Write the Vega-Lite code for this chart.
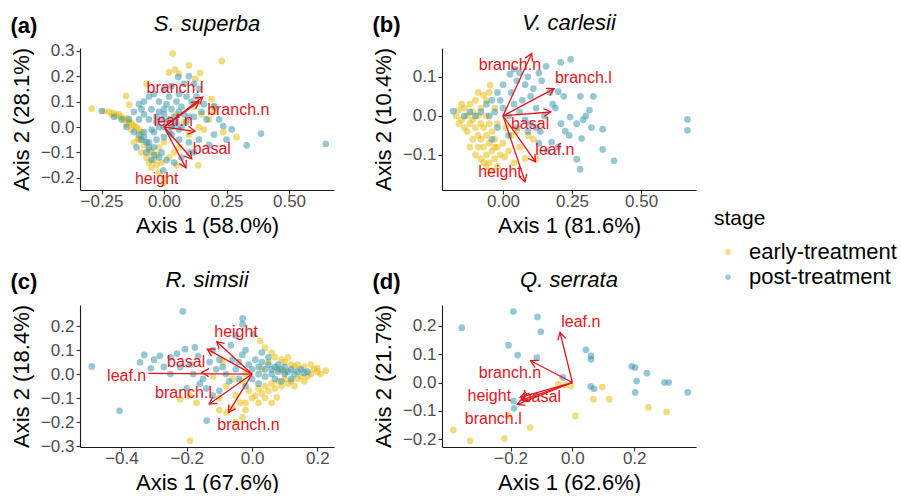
{
"$schema":"https://vega.github.io/schema/vega-lite/v6.json",
"padding":{"left":10,"top":12,"right":0,"bottom":0},
"background":"white",
"config":{"font":"Liberation Sans","view":{"stroke":null},
"axis":{"grid":false,"domainColor":"#1A1A1A","domainWidth":1.1,"tickColor":"#333333","tickWidth":1.1,"tickSize":4,"labelColor":"#4D4D4D","labelFontSize":17,"labelPadding":2,"labelFlush":false,"labelOverlap":false,"titleFontSize":22,"titleFontWeight":"normal","titleColor":"#000000","tickCount":10},
"axisX":{"titlePadding":6,"labelPadding":-1},"axisY":{"titlePadding":7},
"title":{"fontSize":22,"color":"#000000"}},
"columns":2,
"spacing":{"row":33,"column":38},
"datasets":{
"arr":[
{"p":"a","v":"branch.l","ox":0,"oy":0,"ax":0.155,"ay":0.118,"ex":0.155,"ey":0.118,"lx":0.044,"ly":0.154},
{"p":"a","v":"branch.n","ox":0,"oy":0,"ax":0.14,"ay":0.1,"ex":0.14,"ey":0.1,"lx":0.297,"ly":0.066},
{"p":"a","v":"leaf.n","ox":0,"oy":0,"ax":0.124,"ay":-0.017,"ex":0.124,"ey":-0.017,"lx":0.037,"ly":0.024},
{"p":"a","v":"basal","ox":0,"oy":0,"ax":0.111,"ay":-0.125,"ex":0.111,"ey":-0.125,"lx":0.191,"ly":-0.088},
{"p":"a","v":"height","ox":0,"oy":0,"ax":0.088,"ay":-0.161,"ex":0.088,"ey":-0.161,"lx":-0.029,"ly":-0.203},
{"p":"b","v":"branch.n","ox":0,"oy":0,"ax":0.104,"ay":0.16,"ex":0.104,"ey":0.16,"lx":0.025,"ly":0.13},
{"p":"b","v":"branch.l","ox":0,"oy":0,"ax":0.185,"ay":0.07,"ex":0.185,"ey":0.07,"lx":0.291,"ly":0.096},
{"p":"b","v":"basal","ox":0,"oy":0,"ax":0.173,"ay":0.01,"ex":0.173,"ey":0.01,"lx":0.098,"ly":-0.02},
{"p":"b","v":"leaf.n","ox":0,"oy":0,"ax":0.118,"ay":-0.118,"ex":0.118,"ey":-0.118,"lx":0.188,"ly":-0.088},
{"p":"b","v":"height","ox":0,"oy":0,"ax":0.08,"ay":-0.169,"ex":0.08,"ey":-0.169,"lx":-0.011,"ly":-0.144},
{"p":"c","v":"height","ox":0,"oy":0,"ax":-0.108,"ay":0.135,"ex":-0.108,"ey":0.135,"lx":-0.049,"ly":0.176},
{"p":"c","v":"basal","ox":0,"oy":0,"ax":-0.137,"ay":0.104,"ex":-0.137,"ey":0.104,"lx":-0.202,"ly":0.051},
{"p":"c","v":"leaf.n","ox":0,"oy":0,"ax":-0.154,"ay":0.007,"ex":-0.318,"ey":0.003,"lx":-0.384,"ly":-0.01},
{"p":"c","v":"branch.l","ox":0,"oy":0,"ax":-0.131,"ay":-0.125,"ex":-0.131,"ey":-0.125,"lx":-0.21,"ly":-0.079},
{"p":"c","v":"branch.n","ox":0,"oy":0,"ax":-0.072,"ay":-0.16,"ex":-0.072,"ey":-0.16,"lx":-0.011,"ly":-0.213},
{"p":"d","v":"leaf.n","ox":0,"oy":0,"ax":-0.04,"ay":0.177,"ex":-0.04,"ey":0.177,"lx":0.027,"ly":0.214},
{"p":"d","v":"branch.n","ox":0,"oy":0,"ax":-0.135,"ay":0.077,"ex":-0.135,"ey":0.077,"lx":-0.202,"ly":0.033},
{"p":"d","v":"height","ox":0,"oy":0,"ax":-0.169,"ay":-0.053,"ex":-0.169,"ey":-0.053,"lx":-0.269,"ly":-0.047},
{"p":"d","v":"basal","ox":0,"oy":0,"ax":-0.164,"ay":-0.062,"ex":-0.164,"ey":-0.062,"lx":-0.099,"ly":-0.053},
{"p":"d","v":"branch.l","ox":0,"oy":0,"ax":-0.178,"ay":-0.077,"ex":-0.178,"ey":-0.077,"lx":-0.256,"ly":-0.13}
],
"pts":[
{"p":"a","stage":"early-treatment","x":0.035,"y":0.289},{"p":"a","stage":"early-treatment","x":0.231,"y":0.26},{"p":"a","stage":"early-treatment","x":0.1,"y":0.243},{"p":"a","stage":"early-treatment","x":0.044,"y":0.226},{"p":"a","stage":"early-treatment","x":0.144,"y":0.213},{"p":"a","stage":"early-treatment","x":0.06,"y":0.21},{"p":"a","stage":"early-treatment","x":0.02,"y":0.215},{"p":"a","stage":"early-treatment","x":0.125,"y":0.19},{"p":"a","stage":"early-treatment","x":-0.152,"y":0.122},{"p":"a","stage":"early-treatment","x":-0.139,"y":0.088},{"p":"a","stage":"early-treatment","x":-0.07,"y":0.17},{"p":"a","stage":"early-treatment","x":0.19,"y":0.11},{"p":"a","stage":"early-treatment","x":0.2,"y":0.06},{"p":"a","stage":"early-treatment","x":0.18,"y":0.03},{"p":"a","stage":"early-treatment","x":0.237,"y":-0.02},{"p":"a","stage":"early-treatment","x":0.29,"y":-0.04},{"p":"a","stage":"early-treatment","x":0.15,"y":0.05},{"p":"a","stage":"early-treatment","x":-0.289,"y":0.072},{"p":"a","stage":"early-treatment","x":-0.24,"y":0.063},{"p":"a","stage":"early-treatment","x":-0.22,"y":0.06},{"p":"a","stage":"early-treatment","x":-0.2,"y":0.055},{"p":"a","stage":"early-treatment","x":-0.19,"y":0.045},{"p":"a","stage":"early-treatment","x":-0.17,"y":0.04},{"p":"a","stage":"early-treatment","x":-0.16,"y":0.03},{"p":"a","stage":"early-treatment","x":-0.15,"y":0.035},{"p":"a","stage":"early-treatment","x":-0.14,"y":0.02},{"p":"a","stage":"early-treatment","x":-0.13,"y":0.015},{"p":"a","stage":"early-treatment","x":-0.12,"y":0.005},{"p":"a","stage":"early-treatment","x":-0.11,"y":0.0},{"p":"a","stage":"early-treatment","x":-0.1,"y":-0.01},{"p":"a","stage":"early-treatment","x":-0.09,"y":-0.02},{"p":"a","stage":"early-treatment","x":-0.18,"y":0.05},{"p":"a","stage":"early-treatment","x":-0.21,"y":0.05},{"p":"a","stage":"early-treatment","x":-0.15,"y":0.01},{"p":"a","stage":"early-treatment","x":-0.13,"y":-0.01},{"p":"a","stage":"early-treatment","x":-0.103,"y":-0.046},{"p":"a","stage":"early-treatment","x":-0.12,"y":-0.06},{"p":"a","stage":"early-treatment","x":-0.1,"y":-0.05},{"p":"a","stage":"early-treatment","x":-0.08,"y":-0.07},{"p":"a","stage":"early-treatment","x":-0.06,"y":-0.09},{"p":"a","stage":"early-treatment","x":-0.05,"y":-0.1},{"p":"a","stage":"early-treatment","x":-0.07,"y":-0.12},{"p":"a","stage":"early-treatment","x":-0.04,"y":-0.13},{"p":"a","stage":"early-treatment","x":-0.03,"y":-0.15},{"p":"a","stage":"early-treatment","x":-0.05,"y":-0.16},{"p":"a","stage":"early-treatment","x":-0.02,"y":-0.18},{"p":"a","stage":"early-treatment","x":0.0,"y":-0.2},{"p":"a","stage":"early-treatment","x":-0.01,"y":-0.14},{"p":"a","stage":"early-treatment","x":0.02,"y":-0.12},{"p":"a","stage":"early-treatment","x":0.04,"y":-0.1},{"p":"a","stage":"early-treatment","x":-0.09,"y":-0.1},{"p":"a","stage":"early-treatment","x":-0.02,"y":-0.08},{"p":"a","stage":"early-treatment","x":0.0,"y":-0.06},{"p":"a","stage":"early-treatment","x":0.06,"y":-0.08},{"p":"a","stage":"early-treatment","x":0.137,"y":-0.151},{"p":"a","stage":"early-treatment","x":0.05,"y":-0.15},{"p":"a","stage":"early-treatment","x":0.0,"y":-0.22},{"p":"a","stage":"early-treatment","x":-0.06,"y":-0.14},{"p":"a","stage":"early-treatment","x":-0.03,"y":-0.11},{"p":"a","stage":"early-treatment","x":0.08,"y":0.02},{"p":"a","stage":"early-treatment","x":0.12,"y":0.08},{"p":"a","stage":"early-treatment","x":0.1,"y":-0.03},{"p":"a","stage":"early-treatment","x":0.16,"y":-0.01},{"p":"a","stage":"early-treatment","x":0.14,"y":0.0},{"p":"a","stage":"early-treatment","x":0.05,"y":0.05},{"p":"a","stage":"early-treatment","x":0.2,"y":0.08},
{"p":"a","stage":"post-treatment","x":-0.249,"y":0.063},{"p":"a","stage":"post-treatment","x":-0.2,"y":0.04},{"p":"a","stage":"post-treatment","x":-0.17,"y":0.03},{"p":"a","stage":"post-treatment","x":-0.14,"y":0.03},{"p":"a","stage":"post-treatment","x":-0.12,"y":0.06},{"p":"a","stage":"post-treatment","x":-0.1,"y":0.09},{"p":"a","stage":"post-treatment","x":-0.08,"y":0.1},{"p":"a","stage":"post-treatment","x":-0.06,"y":0.12},{"p":"a","stage":"post-treatment","x":-0.04,"y":0.13},{"p":"a","stage":"post-treatment","x":0.0,"y":0.15},{"p":"a","stage":"post-treatment","x":0.03,"y":0.16},{"p":"a","stage":"post-treatment","x":0.057,"y":0.197},{"p":"a","stage":"post-treatment","x":0.1,"y":0.2},{"p":"a","stage":"post-treatment","x":0.08,"y":0.17},{"p":"a","stage":"post-treatment","x":0.12,"y":0.17},{"p":"a","stage":"post-treatment","x":0.14,"y":0.15},{"p":"a","stage":"post-treatment","x":0.02,"y":0.12},{"p":"a","stage":"post-treatment","x":-0.02,"y":0.1},{"p":"a","stage":"post-treatment","x":0.05,"y":0.1},{"p":"a","stage":"post-treatment","x":0.09,"y":0.12},{"p":"a","stage":"post-treatment","x":0.11,"y":0.1},{"p":"a","stage":"post-treatment","x":0.07,"y":0.08},{"p":"a","stage":"post-treatment","x":0.03,"y":0.07},{"p":"a","stage":"post-treatment","x":-0.05,"y":0.07},{"p":"a","stage":"post-treatment","x":-0.08,"y":0.05},{"p":"a","stage":"post-treatment","x":-0.1,"y":0.03},{"p":"a","stage":"post-treatment","x":-0.06,"y":0.03},{"p":"a","stage":"post-treatment","x":-0.03,"y":0.04},{"p":"a","stage":"post-treatment","x":0.0,"y":0.05},{"p":"a","stage":"post-treatment","x":0.02,"y":0.03},{"p":"a","stage":"post-treatment","x":0.04,"y":0.01},{"p":"a","stage":"post-treatment","x":-0.02,"y":0.0},{"p":"a","stage":"post-treatment","x":-0.05,"y":-0.01},{"p":"a","stage":"post-treatment","x":-0.08,"y":-0.02},{"p":"a","stage":"post-treatment","x":0.06,"y":-0.01},{"p":"a","stage":"post-treatment","x":0.09,"y":0.02},{"p":"a","stage":"post-treatment","x":0.12,"y":0.04},{"p":"a","stage":"post-treatment","x":0.15,"y":0.06},{"p":"a","stage":"post-treatment","x":0.17,"y":0.03},{"p":"a","stage":"post-treatment","x":0.201,"y":0.081},{"p":"a","stage":"post-treatment","x":0.237,"y":0.004},{"p":"a","stage":"post-treatment","x":0.271,"y":-0.009},{"p":"a","stage":"post-treatment","x":0.388,"y":-0.026},{"p":"a","stage":"post-treatment","x":0.331,"y":-0.072},{"p":"a","stage":"post-treatment","x":0.647,"y":-0.066},{"p":"a","stage":"post-treatment","x":0.25,"y":-0.05},{"p":"a","stage":"post-treatment","x":0.2,"y":-0.03},{"p":"a","stage":"post-treatment","x":0.18,"y":-0.07},{"p":"a","stage":"post-treatment","x":0.14,"y":-0.05},{"p":"a","stage":"post-treatment","x":0.1,"y":-0.06},{"p":"a","stage":"post-treatment","x":0.06,"y":-0.05},{"p":"a","stage":"post-treatment","x":0.03,"y":-0.03},{"p":"a","stage":"post-treatment","x":0.0,"y":-0.04},{"p":"a","stage":"post-treatment","x":-0.03,"y":-0.05},{"p":"a","stage":"post-treatment","x":-0.06,"y":-0.06},{"p":"a","stage":"post-treatment","x":-0.09,"y":-0.05},{"p":"a","stage":"post-treatment","x":-0.11,"y":-0.08},{"p":"a","stage":"post-treatment","x":-0.07,"y":-0.1},{"p":"a","stage":"post-treatment","x":-0.04,"y":-0.08},{"p":"a","stage":"post-treatment","x":-0.01,"y":-0.1},{"p":"a","stage":"post-treatment","x":0.01,"y":-0.13},{"p":"a","stage":"post-treatment","x":-0.003,"y":-0.171},{"p":"a","stage":"post-treatment","x":0.04,"y":-0.14},{"p":"a","stage":"post-treatment","x":0.07,"y":-0.12},{"p":"a","stage":"post-treatment","x":0.12,"y":-0.1},{"p":"a","stage":"post-treatment","x":-0.12,"y":-0.02},{"p":"a","stage":"post-treatment","x":-0.15,"y":0.0},{"p":"a","stage":"post-treatment","x":-0.09,"y":0.07},{"p":"a","stage":"post-treatment","x":0.01,"y":0.09},{"p":"a","stage":"post-treatment","x":0.13,"y":0.12},{"p":"a","stage":"post-treatment","x":0.16,"y":0.09},{"p":"a","stage":"post-treatment","x":0.06,"y":0.13},{"p":"a","stage":"post-treatment","x":0.22,"y":0.03},{"p":"a","stage":"post-treatment","x":0.1,"y":-0.1},{"p":"a","stage":"post-treatment","x":0.0,"y":0.0},{"p":"a","stage":"post-treatment","x":0.01,"y":0.02},{"p":"a","stage":"post-treatment","x":-0.01,"y":0.03},{"p":"a","stage":"post-treatment","x":0.03,"y":0.0},{"p":"a","stage":"post-treatment","x":0.05,"y":0.02},{"p":"a","stage":"post-treatment","x":0.07,"y":0.0},{"p":"a","stage":"post-treatment","x":0.02,"y":-0.02},{"p":"a","stage":"post-treatment","x":-0.03,"y":0.02},{"p":"a","stage":"post-treatment","x":0.04,"y":0.04},{"p":"a","stage":"post-treatment","x":0.08,"y":0.05},{"p":"a","stage":"post-treatment","x":-0.04,"y":-0.02},{"p":"a","stage":"post-treatment","x":0.06,"y":0.06},{"p":"a","stage":"post-treatment","x":0.1,"y":0.04},{"p":"a","stage":"post-treatment","x":0.0,"y":0.07},{"p":"a","stage":"post-treatment","x":-0.02,"y":0.06},{"p":"a","stage":"post-treatment","x":-0.08,"y":-0.04},{"p":"a","stage":"post-treatment","x":-0.06,"y":-0.08},{"p":"a","stage":"post-treatment","x":-0.04,"y":-0.11},{"p":"a","stage":"post-treatment","x":-0.07,"y":-0.06},{"p":"a","stage":"post-treatment","x":-0.1,"y":-0.03},{"p":"a","stage":"post-treatment","x":-0.05,"y":-0.13},{"p":"a","stage":"post-treatment","x":-0.02,"y":-0.12},
{"p":"b","stage":"early-treatment","x":-0.17,"y":0.0},{"p":"b","stage":"early-treatment","x":-0.16,"y":0.015},{"p":"b","stage":"early-treatment","x":-0.15,"y":-0.01},{"p":"b","stage":"early-treatment","x":-0.14,"y":0.02},{"p":"b","stage":"early-treatment","x":-0.13,"y":0.0},{"p":"b","stage":"early-treatment","x":-0.12,"y":-0.02},{"p":"b","stage":"early-treatment","x":-0.12,"y":0.03},{"p":"b","stage":"early-treatment","x":-0.11,"y":0.01},{"p":"b","stage":"early-treatment","x":-0.1,"y":-0.03},{"p":"b","stage":"early-treatment","x":-0.1,"y":0.04},{"p":"b","stage":"early-treatment","x":-0.09,"y":-0.05},{"p":"b","stage":"early-treatment","x":-0.09,"y":0.0},{"p":"b","stage":"early-treatment","x":-0.08,"y":-0.06},{"p":"b","stage":"early-treatment","x":-0.08,"y":0.02},{"p":"b","stage":"early-treatment","x":-0.07,"y":-0.08},{"p":"b","stage":"early-treatment","x":-0.07,"y":-0.03},{"p":"b","stage":"early-treatment","x":-0.06,"y":-0.1},{"p":"b","stage":"early-treatment","x":-0.06,"y":0.0},{"p":"b","stage":"early-treatment","x":-0.05,"y":-0.07},{"p":"b","stage":"early-treatment","x":-0.05,"y":-0.12},{"p":"b","stage":"early-treatment","x":-0.04,"y":-0.09},{"p":"b","stage":"early-treatment","x":-0.04,"y":-0.04},{"p":"b","stage":"early-treatment","x":-0.03,"y":-0.11},{"p":"b","stage":"early-treatment","x":-0.03,"y":-0.06},{"p":"b","stage":"early-treatment","x":-0.02,"y":-0.13},{"p":"b","stage":"early-treatment","x":-0.02,"y":-0.08},{"p":"b","stage":"early-treatment","x":-0.01,"y":-0.1},{"p":"b","stage":"early-treatment","x":0.0,"y":-0.07},{"p":"b","stage":"early-treatment","x":0.007,"y":-0.105},{"p":"b","stage":"early-treatment","x":0.02,"y":-0.09},{"p":"b","stage":"early-treatment","x":0.04,"y":-0.12},{"p":"b","stage":"early-treatment","x":0.08,"y":-0.109},{"p":"b","stage":"early-treatment","x":0.092,"y":-0.05},{"p":"b","stage":"early-treatment","x":0.11,"y":-0.06},{"p":"b","stage":"early-treatment","x":0.06,"y":-0.08},{"p":"b","stage":"early-treatment","x":-0.047,"y":0.079},{"p":"b","stage":"early-treatment","x":-0.071,"y":0.053},{"p":"b","stage":"early-treatment","x":-0.06,"y":0.04},{"p":"b","stage":"early-treatment","x":-0.11,"y":-0.06},{"p":"b","stage":"early-treatment","x":-0.13,"y":-0.04},{"p":"b","stage":"early-treatment","x":-0.15,"y":0.03},{"p":"b","stage":"early-treatment","x":-0.14,"y":-0.03},{"p":"b","stage":"early-treatment","x":-0.12,"y":-0.08},{"p":"b","stage":"early-treatment","x":-0.1,"y":-0.1},{"p":"b","stage":"early-treatment","x":-0.08,"y":-0.11},{"p":"b","stage":"early-treatment","x":-0.06,"y":-0.13},{"p":"b","stage":"early-treatment","x":-0.09,"y":0.06},{"p":"b","stage":"early-treatment","x":-0.03,"y":0.02},{"p":"b","stage":"early-treatment","x":-0.02,"y":-0.02},{"p":"b","stage":"early-treatment","x":0.01,"y":-0.03},{"p":"b","stage":"early-treatment","x":-0.16,"y":-0.02},{"p":"b","stage":"early-treatment","x":-0.05,"y":0.06},{"p":"b","stage":"early-treatment","x":0.03,"y":-0.05},{"p":"b","stage":"early-treatment","x":0.05,"y":-0.04},{"p":"b","stage":"early-treatment","x":-0.07,"y":-0.12},{"p":"b","stage":"early-treatment","x":-0.04,"y":-0.14},{"p":"b","stage":"early-treatment","x":0.12,"y":-0.11},{"p":"b","stage":"early-treatment","x":-0.11,"y":-0.01},{"p":"b","stage":"early-treatment","x":-0.08,"y":-0.02},{"p":"b","stage":"early-treatment","x":-0.06,"y":-0.05},{"p":"b","stage":"early-treatment","x":-0.05,"y":-0.02},{"p":"b","stage":"early-treatment","x":-0.09,"y":-0.08},{"p":"b","stage":"early-treatment","x":-0.03,"y":-0.08},
{"p":"b","stage":"post-treatment","x":-0.18,"y":0.012},{"p":"b","stage":"post-treatment","x":0.245,"y":0.145},{"p":"b","stage":"post-treatment","x":0.209,"y":0.137},{"p":"b","stage":"post-treatment","x":0.156,"y":0.127},{"p":"b","stage":"post-treatment","x":0.025,"y":0.107},{"p":"b","stage":"post-treatment","x":0.327,"y":0.05},{"p":"b","stage":"post-treatment","x":0.313,"y":0.015},{"p":"b","stage":"post-treatment","x":0.668,"y":-0.009},{"p":"b","stage":"post-treatment","x":0.668,"y":-0.037},{"p":"b","stage":"post-treatment","x":0.361,"y":-0.034},{"p":"b","stage":"post-treatment","x":0.361,"y":-0.086},{"p":"b","stage":"post-treatment","x":0.402,"y":-0.115},{"p":"b","stage":"post-treatment","x":0.279,"y":-0.137},{"p":"b","stage":"post-treatment","x":0.267,"y":-0.111},{"p":"b","stage":"post-treatment","x":0.285,"y":-0.058},{"p":"b","stage":"post-treatment","x":0.225,"y":-0.039},{"p":"b","stage":"post-treatment","x":0.267,"y":-0.02},{"p":"b","stage":"post-treatment","x":0.243,"y":-0.003},{"p":"b","stage":"post-treatment","x":0.2,"y":0.062},{"p":"b","stage":"post-treatment","x":0.22,"y":0.05},{"p":"b","stage":"post-treatment","x":0.18,"y":0.03},{"p":"b","stage":"post-treatment","x":0.176,"y":-0.067},{"p":"b","stage":"post-treatment","x":0.135,"y":-0.04},{"p":"b","stage":"post-treatment","x":0.15,"y":0.0},{"p":"b","stage":"post-treatment","x":0.12,"y":0.02},{"p":"b","stage":"post-treatment","x":0.1,"y":0.05},{"p":"b","stage":"post-treatment","x":0.08,"y":0.08},{"p":"b","stage":"post-treatment","x":0.05,"y":0.09},{"p":"b","stage":"post-treatment","x":0.03,"y":0.06},{"p":"b","stage":"post-treatment","x":0.0,"y":0.08},{"p":"b","stage":"post-treatment","x":-0.02,"y":0.06},{"p":"b","stage":"post-treatment","x":-0.04,"y":0.04},{"p":"b","stage":"post-treatment","x":-0.06,"y":0.03},{"p":"b","stage":"post-treatment","x":-0.08,"y":0.01},{"p":"b","stage":"post-treatment","x":-0.1,"y":0.0},{"p":"b","stage":"post-treatment","x":-0.12,"y":0.01},{"p":"b","stage":"post-treatment","x":-0.14,"y":0.0},{"p":"b","stage":"post-treatment","x":-0.05,"y":0.0},{"p":"b","stage":"post-treatment","x":-0.03,"y":0.01},{"p":"b","stage":"post-treatment","x":0.0,"y":0.02},{"p":"b","stage":"post-treatment","x":0.02,"y":0.0},{"p":"b","stage":"post-treatment","x":0.04,"y":0.03},{"p":"b","stage":"post-treatment","x":0.06,"y":0.01},{"p":"b","stage":"post-treatment","x":0.08,"y":-0.01},{"p":"b","stage":"post-treatment","x":0.1,"y":-0.02},{"p":"b","stage":"post-treatment","x":0.12,"y":-0.03},{"p":"b","stage":"post-treatment","x":0.07,"y":0.04},{"p":"b","stage":"post-treatment","x":0.11,"y":0.07},{"p":"b","stage":"post-treatment","x":0.14,"y":0.09},{"p":"b","stage":"post-treatment","x":0.17,"y":0.06},{"p":"b","stage":"post-treatment","x":0.19,"y":0.02},{"p":"b","stage":"post-treatment","x":0.21,"y":-0.02},{"p":"b","stage":"post-treatment","x":0.24,"y":-0.05},{"p":"b","stage":"post-treatment","x":0.2,"y":-0.08},{"p":"b","stage":"post-treatment","x":0.16,"y":-0.09},{"p":"b","stage":"post-treatment","x":0.13,"y":-0.07},{"p":"b","stage":"post-treatment","x":0.09,"y":-0.04},{"p":"b","stage":"post-treatment","x":0.05,"y":-0.03},{"p":"b","stage":"post-treatment","x":0.02,"y":-0.05},{"p":"b","stage":"post-treatment","x":-0.02,"y":-0.03},{"p":"b","stage":"post-treatment","x":-0.04,"y":-0.06},{"p":"b","stage":"post-treatment","x":0.06,"y":0.11},{"p":"b","stage":"post-treatment","x":0.09,"y":0.1},{"p":"b","stage":"post-treatment","x":0.13,"y":0.11},{"p":"b","stage":"post-treatment","x":0.04,"y":0.12},{"p":"b","stage":"post-treatment","x":-0.01,"y":0.04},{"p":"b","stage":"post-treatment","x":0.32,"y":-0.03},{"p":"b","stage":"post-treatment","x":0.29,"y":-0.01},{"p":"b","stage":"post-treatment","x":0.3,"y":0.0},{"p":"b","stage":"post-treatment","x":0.28,"y":0.05},
{"p":"c","stage":"early-treatment","x":0.226,"y":0.014},{"p":"c","stage":"early-treatment","x":0.2,"y":0.01},{"p":"c","stage":"early-treatment","x":0.19,"y":0.02},{"p":"c","stage":"early-treatment","x":0.18,"y":0.0},{"p":"c","stage":"early-treatment","x":0.17,"y":-0.01},{"p":"c","stage":"early-treatment","x":0.16,"y":0.03},{"p":"c","stage":"early-treatment","x":0.15,"y":-0.01},{"p":"c","stage":"early-treatment","x":0.14,"y":-0.02},{"p":"c","stage":"early-treatment","x":0.13,"y":0.03},{"p":"c","stage":"early-treatment","x":0.12,"y":-0.03},{"p":"c","stage":"early-treatment","x":0.11,"y":-0.04},{"p":"c","stage":"early-treatment","x":0.1,"y":-0.02},{"p":"c","stage":"early-treatment","x":0.09,"y":-0.05},{"p":"c","stage":"early-treatment","x":0.08,"y":-0.03},{"p":"c","stage":"early-treatment","x":0.076,"y":-0.097},{"p":"c","stage":"early-treatment","x":0.07,"y":-0.06},{"p":"c","stage":"early-treatment","x":0.06,"y":-0.04},{"p":"c","stage":"early-treatment","x":0.05,"y":-0.07},{"p":"c","stage":"early-treatment","x":0.04,"y":-0.05},{"p":"c","stage":"early-treatment","x":0.03,"y":-0.08},{"p":"c","stage":"early-treatment","x":0.02,"y":-0.06},{"p":"c","stage":"early-treatment","x":0.01,"y":-0.09},{"p":"c","stage":"early-treatment","x":0.0,"y":-0.1},{"p":"c","stage":"early-treatment","x":-0.01,"y":-0.07},{"p":"c","stage":"early-treatment","x":-0.02,"y":-0.12},{"p":"c","stage":"early-treatment","x":-0.037,"y":-0.118},{"p":"c","stage":"early-treatment","x":-0.05,"y":-0.09},{"p":"c","stage":"early-treatment","x":-0.06,"y":-0.14},{"p":"c","stage":"early-treatment","x":-0.078,"y":-0.16},{"p":"c","stage":"early-treatment","x":-0.1,"y":-0.15},{"p":"c","stage":"early-treatment","x":-0.05,"y":-0.2},{"p":"c","stage":"early-treatment","x":-0.03,"y":-0.18},{"p":"c","stage":"early-treatment","x":-0.02,"y":-0.15},{"p":"c","stage":"early-treatment","x":-0.19,"y":-0.278},{"p":"c","stage":"early-treatment","x":-0.22,"y":-0.104},{"p":"c","stage":"early-treatment","x":-0.19,"y":-0.09},{"p":"c","stage":"early-treatment","x":-0.17,"y":-0.12},{"p":"c","stage":"early-treatment","x":0.025,"y":0.139},{"p":"c","stage":"early-treatment","x":0.04,"y":0.11},{"p":"c","stage":"early-treatment","x":0.06,"y":0.09},{"p":"c","stage":"early-treatment","x":0.07,"y":0.07},{"p":"c","stage":"early-treatment","x":0.09,"y":0.06},{"p":"c","stage":"early-treatment","x":0.1,"y":0.05},{"p":"c","stage":"early-treatment","x":0.12,"y":0.04},{"p":"c","stage":"early-treatment","x":0.14,"y":0.04},{"p":"c","stage":"early-treatment","x":0.11,"y":0.07},{"p":"c","stage":"early-treatment","x":0.05,"y":0.05},{"p":"c","stage":"early-treatment","x":0.03,"y":0.02},{"p":"c","stage":"early-treatment","x":0.08,"y":0.02},{"p":"c","stage":"early-treatment","x":0.1,"y":0.01},{"p":"c","stage":"early-treatment","x":-0.02,"y":0.0},{"p":"c","stage":"early-treatment","x":-0.03,"y":-0.03},{"p":"c","stage":"early-treatment","x":-0.06,"y":-0.02},{"p":"c","stage":"early-treatment","x":-0.08,"y":-0.05},{"p":"c","stage":"early-treatment","x":-0.1,"y":-0.1},{"p":"c","stage":"early-treatment","x":0.02,"y":-0.12},{"p":"c","stage":"early-treatment","x":0.04,"y":-0.1},{"p":"c","stage":"early-treatment","x":0.06,"y":-0.12},{"p":"c","stage":"early-treatment","x":-0.12,"y":-0.01},{"p":"c","stage":"early-treatment","x":-0.09,"y":0.05},{"p":"c","stage":"early-treatment","x":0.13,"y":-0.05},{"p":"c","stage":"early-treatment","x":0.16,"y":-0.03},{"p":"c","stage":"early-treatment","x":0.18,"y":0.04},{"p":"c","stage":"early-treatment","x":0.2,"y":0.025},{"p":"c","stage":"early-treatment","x":0.21,"y":0.0},
{"p":"c","stage":"post-treatment","x":-0.491,"y":0.032},{"p":"c","stage":"post-treatment","x":-0.212,"y":0.261},{"p":"c","stage":"post-treatment","x":-0.406,"y":-0.153},{"p":"c","stage":"post-treatment","x":-0.139,"y":-0.194},{"p":"c","stage":"post-treatment","x":-0.029,"y":0.232},{"p":"c","stage":"post-treatment","x":-0.029,"y":0.208},{"p":"c","stage":"post-treatment","x":0.004,"y":0.167},{"p":"c","stage":"post-treatment","x":-0.05,"y":0.16},{"p":"c","stage":"post-treatment","x":-0.343,"y":0.049},{"p":"c","stage":"post-treatment","x":-0.31,"y":0.024},{"p":"c","stage":"post-treatment","x":-0.282,"y":0.076},{"p":"c","stage":"post-treatment","x":-0.25,"y":0.07},{"p":"c","stage":"post-treatment","x":-0.23,"y":0.085},{"p":"c","stage":"post-treatment","x":-0.205,"y":0.104},{"p":"c","stage":"post-treatment","x":-0.175,"y":0.111},{"p":"c","stage":"post-treatment","x":-0.165,"y":0.075},{"p":"c","stage":"post-treatment","x":-0.12,"y":0.1},{"p":"c","stage":"post-treatment","x":-0.065,"y":0.12},{"p":"c","stage":"post-treatment","x":-0.15,"y":-0.02},{"p":"c","stage":"post-treatment","x":-0.14,"y":-0.06},{"p":"c","stage":"post-treatment","x":-0.16,"y":-0.04},{"p":"c","stage":"post-treatment","x":-0.2,"y":-0.06},{"p":"c","stage":"post-treatment","x":-0.25,"y":0.0},{"p":"c","stage":"post-treatment","x":-0.27,"y":0.03},{"p":"c","stage":"post-treatment","x":-0.3,"y":0.06},{"p":"c","stage":"post-treatment","x":-0.33,"y":0.08},{"p":"c","stage":"post-treatment","x":-0.22,"y":0.03},{"p":"c","stage":"post-treatment","x":-0.19,"y":0.04},{"p":"c","stage":"post-treatment","x":-0.1,"y":0.06},{"p":"c","stage":"post-treatment","x":-0.09,"y":0.03},{"p":"c","stage":"post-treatment","x":-0.08,"y":0.0},{"p":"c","stage":"post-treatment","x":-0.07,"y":-0.03},{"p":"c","stage":"post-treatment","x":-0.05,"y":0.02},{"p":"c","stage":"post-treatment","x":-0.04,"y":0.05},{"p":"c","stage":"post-treatment","x":-0.03,"y":0.08},{"p":"c","stage":"post-treatment","x":-0.02,"y":0.1},{"p":"c","stage":"post-treatment","x":-0.01,"y":0.04},{"p":"c","stage":"post-treatment","x":0.0,"y":0.02},{"p":"c","stage":"post-treatment","x":0.01,"y":0.06},{"p":"c","stage":"post-treatment","x":0.02,"y":0.03},{"p":"c","stage":"post-treatment","x":0.02,"y":0.0},{"p":"c","stage":"post-treatment","x":0.03,"y":0.05},{"p":"c","stage":"post-treatment","x":0.04,"y":0.02},{"p":"c","stage":"post-treatment","x":0.04,"y":-0.01},{"p":"c","stage":"post-treatment","x":0.05,"y":0.04},{"p":"c","stage":"post-treatment","x":0.06,"y":0.02},{"p":"c","stage":"post-treatment","x":0.06,"y":0.0},{"p":"c","stage":"post-treatment","x":0.07,"y":0.03},{"p":"c","stage":"post-treatment","x":0.08,"y":0.01},{"p":"c","stage":"post-treatment","x":0.08,"y":0.04},{"p":"c","stage":"post-treatment","x":0.09,"y":0.02},{"p":"c","stage":"post-treatment","x":0.1,"y":0.0},{"p":"c","stage":"post-treatment","x":0.1,"y":0.03},{"p":"c","stage":"post-treatment","x":0.11,"y":0.01},{"p":"c","stage":"post-treatment","x":0.12,"y":0.02},{"p":"c","stage":"post-treatment","x":0.13,"y":0.0},{"p":"c","stage":"post-treatment","x":0.14,"y":0.01},{"p":"c","stage":"post-treatment","x":0.15,"y":0.02},{"p":"c","stage":"post-treatment","x":0.16,"y":0.005},{"p":"c","stage":"post-treatment","x":0.17,"y":0.01},{"p":"c","stage":"post-treatment","x":0.03,"y":0.09},{"p":"c","stage":"post-treatment","x":0.05,"y":0.07},{"p":"c","stage":"post-treatment","x":-0.06,"y":0.06},{"p":"c","stage":"post-treatment","x":-0.11,"y":0.02},{"p":"c","stage":"post-treatment","x":-0.13,"y":0.05},{"p":"c","stage":"post-treatment","x":0.0,"y":-0.02},{"p":"c","stage":"post-treatment","x":0.02,"y":-0.04},{"p":"c","stage":"post-treatment","x":-0.02,"y":-0.05},{"p":"c","stage":"post-treatment","x":-0.04,"y":-0.02},{"p":"c","stage":"post-treatment","x":0.07,"y":-0.02},{"p":"c","stage":"post-treatment","x":0.09,"y":-0.03},{"p":"c","stage":"post-treatment","x":0.12,"y":-0.02},{"p":"c","stage":"post-treatment","x":-0.12,"y":-0.09},{"p":"c","stage":"post-treatment","x":-0.18,"y":0.0},{"p":"c","stage":"post-treatment","x":-0.1,"y":-0.07},
{"p":"d","stage":"early-treatment","x":-0.385,"y":-0.168},{"p":"d","stage":"early-treatment","x":-0.331,"y":-0.206},{"p":"d","stage":"early-treatment","x":-0.22,"y":-0.198},{"p":"d","stage":"early-treatment","x":-0.137,"y":-0.159},{"p":"d","stage":"early-treatment","x":-0.207,"y":-0.118},{"p":"d","stage":"early-treatment","x":0.01,"y":-0.118},{"p":"d","stage":"early-treatment","x":0.068,"y":-0.059},{"p":"d","stage":"early-treatment","x":0.119,"y":-0.059},{"p":"d","stage":"early-treatment","x":0.097,"y":-0.016},{"p":"d","stage":"early-treatment","x":0.246,"y":-0.088},{"p":"d","stage":"early-treatment","x":0.305,"y":-0.104},{"p":"d","stage":"early-treatment","x":-0.045,"y":-0.006},{"p":"d","stage":"early-treatment","x":-0.024,"y":-0.009},{"p":"d","stage":"early-treatment","x":-0.005,"y":-0.012},
{"p":"d","stage":"post-treatment","x":-0.358,"y":0.194},{"p":"d","stage":"post-treatment","x":-0.191,"y":0.251},{"p":"d","stage":"post-treatment","x":-0.113,"y":0.232},{"p":"d","stage":"post-treatment","x":-0.102,"y":0.179},{"p":"d","stage":"post-treatment","x":-0.207,"y":0.132},{"p":"d","stage":"post-treatment","x":-0.177,"y":0.097},{"p":"d","stage":"post-treatment","x":-0.115,"y":0.088},{"p":"d","stage":"post-treatment","x":-0.031,"y":0.018},{"p":"d","stage":"post-treatment","x":0.044,"y":0.115},{"p":"d","stage":"post-treatment","x":0.06,"y":0.094},{"p":"d","stage":"post-treatment","x":0.06,"y":0.082},{"p":"d","stage":"post-treatment","x":0.059,"y":-0.014},{"p":"d","stage":"post-treatment","x":0.07,"y":-0.022},{"p":"d","stage":"post-treatment","x":0.192,"y":0.057},{"p":"d","stage":"post-treatment","x":0.203,"y":0.053},{"p":"d","stage":"post-treatment","x":0.241,"y":0.033},{"p":"d","stage":"post-treatment","x":0.208,"y":0.005},{"p":"d","stage":"post-treatment","x":0.203,"y":-0.035},{"p":"d","stage":"post-treatment","x":0.298,"y":0.0},{"p":"d","stage":"post-treatment","x":0.312,"y":0.0},{"p":"d","stage":"post-treatment","x":0.373,"y":-0.035},{"p":"d","stage":"post-treatment","x":-0.191,"y":-0.065},{"p":"d","stage":"post-treatment","x":-0.189,"y":-0.091}
]},
"concat":[
{"title":{"text":"(a)","anchor":"start","frame":"bounds","fontWeight":"bold","offset":-25},
"vconcat":[{"width":254,"height":142,"title":{"text":"S. superba","fontStyle":"italic","fontWeight":"normal","anchor":"middle","frame":"group","offset":6},
"layer":[
{"data":{"name":"pts"},"transform":[{"filter":"datum.p=='a'"}],"mark":{"type":"circle","size":45,"opacity":0.5},
"encoding":{"x":{"field":"x","type":"quantitative","scale":{"domain":[-0.336,0.68],"nice":false,"zero":false},"axis":{"title":"Axis 1 (58.0%)","values":[-0.25,0,0.25,0.5],"format":".2f","labelOverlap":false,"tickCount":10}},
"y":{"field":"y","type":"quantitative","scale":{"domain":[-0.248,0.311],"nice":false,"zero":false},"axis":{"title":"Axis 2 (28.1%)","values":[-0.2,-0.1,0,0.1,0.2,0.3],"format":".1f","labelOverlap":false,"tickCount":10}},
"color":{"field":"stage","type":"nominal","scale":{"domain":["early-treatment","post-treatment"],"range":["#E7B800","#2E8FAA"]},"legend":{"title":"stage","orient":"none","legendX":634,"legendY":160,"titleFontSize":21,"titleFontWeight":"normal","titleColor":"#000000","labelFontSize":22,"labelColor":"#000000","symbolSize":30,"symbolOffset":3,"labelOffset":10,"rowPadding":3,"titlePadding":12}}}},
{"data":{"name":"arr"},"transform":[{"filter":"datum.p=='a'"}],"mark":{"type":"rule","color":"#E8141C","strokeWidth":1.3},
"encoding":{"x":{"field":"ox","type":"quantitative","scale":{"domain":[-0.336,0.68],"nice":false,"zero":false}},"y":{"field":"oy","type":"quantitative","scale":{"domain":[-0.248,0.311],"nice":false,"zero":false}},"x2":{"field":"ex"},"y2":{"field":"ey"}}},
{"data":{"name":"arr"},"transform":[{"filter":"datum.p=='a'"},{"calculate":"atan2(-datum.ay*254,datum.ax*250)*180/PI","as":"ang"}],"mark":{"type":"point","shape":"M-1,-0.577L0,0L-1,0.577","filled":false,"color":"#E8141C","strokeWidth":1.3,"size":196,"opacity":1},
"encoding":{"x":{"field":"ax","type":"quantitative","scale":{"domain":[-0.336,0.68],"nice":false,"zero":false}},"y":{"field":"ay","type":"quantitative","scale":{"domain":[-0.248,0.311],"nice":false,"zero":false}},"angle":{"field":"ang","type":"quantitative","scale":null}}},
{"data":{"name":"arr"},"transform":[{"filter":"datum.p=='a'"}],"mark":{"type":"text","color":"#E8141C","fontSize":16},
"encoding":{"x":{"field":"lx","type":"quantitative","scale":{"domain":[-0.336,0.68],"nice":false,"zero":false}},"y":{"field":"ly","type":"quantitative","scale":{"domain":[-0.248,0.311],"nice":false,"zero":false}},"text":{"field":"v"}}}
]}]},
{"title":{"text":"(b)","anchor":"start","frame":"bounds","fontWeight":"bold","offset":-25},
"vconcat":[{"width":254,"height":142,"title":{"text":"V. carlesii","fontStyle":"italic","fontWeight":"normal","anchor":"middle","frame":"group","offset":12},
"layer":[
{"data":{"name":"pts"},"transform":[{"filter":"datum.p=='b'"}],"mark":{"type":"circle","size":45,"opacity":0.5},
"encoding":{"x":{"field":"x","type":"quantitative","scale":{"domain":[-0.221,0.699],"nice":false,"zero":false},"axis":{"title":"Axis 1 (81.6%)","values":[0,0.25,0.5],"format":".2f","labelOverlap":false,"tickCount":10}},
"y":{"field":"y","type":"quantitative","scale":{"domain":[-0.19,0.174],"nice":false,"zero":false},"axis":{"title":"Axis 2 (10.4%)","values":[-0.1,0,0.1],"format":".1f","labelOverlap":false,"tickCount":10}},
"color":{"field":"stage","type":"nominal","scale":{"domain":["early-treatment","post-treatment"],"range":["#E7B800","#2E8FAA"]},"legend":{"title":"stage","orient":"none","legendX":634,"legendY":160,"titleFontSize":21,"titleFontWeight":"normal","titleColor":"#000000","labelFontSize":22,"labelColor":"#000000","symbolSize":30,"symbolOffset":3,"labelOffset":10,"rowPadding":3,"titlePadding":12}}}},
{"data":{"name":"arr"},"transform":[{"filter":"datum.p=='b'"}],"mark":{"type":"rule","color":"#E8141C","strokeWidth":1.3},
"encoding":{"x":{"field":"ox","type":"quantitative","scale":{"domain":[-0.221,0.699],"nice":false,"zero":false}},"y":{"field":"oy","type":"quantitative","scale":{"domain":[-0.19,0.174],"nice":false,"zero":false}},"x2":{"field":"ex"},"y2":{"field":"ey"}}},
{"data":{"name":"arr"},"transform":[{"filter":"datum.p=='b'"},{"calculate":"atan2(-datum.ay*390,datum.ax*276)*180/PI","as":"ang"}],"mark":{"type":"point","shape":"M-1,-0.577L0,0L-1,0.577","filled":false,"color":"#E8141C","strokeWidth":1.3,"size":196,"opacity":1},
"encoding":{"x":{"field":"ax","type":"quantitative","scale":{"domain":[-0.221,0.699],"nice":false,"zero":false}},"y":{"field":"ay","type":"quantitative","scale":{"domain":[-0.19,0.174],"nice":false,"zero":false}},"angle":{"field":"ang","type":"quantitative","scale":null}}},
{"data":{"name":"arr"},"transform":[{"filter":"datum.p=='b'"}],"mark":{"type":"text","color":"#E8141C","fontSize":16},
"encoding":{"x":{"field":"lx","type":"quantitative","scale":{"domain":[-0.221,0.699],"nice":false,"zero":false}},"y":{"field":"ly","type":"quantitative","scale":{"domain":[-0.19,0.174],"nice":false,"zero":false}},"text":{"field":"v"}}}
]}]},
{"title":{"text":"(c)","anchor":"start","frame":"bounds","fontWeight":"bold","offset":-25},
"vconcat":[{"width":254,"height":142,"title":{"text":"R. simsii","fontStyle":"italic","fontWeight":"normal","anchor":"middle","frame":"group","offset":12},
"layer":[
{"data":{"name":"pts"},"transform":[{"filter":"datum.p=='c'"}],"mark":{"type":"circle","size":45,"opacity":0.5},
"encoding":{"x":{"field":"x","type":"quantitative","scale":{"domain":[-0.527,0.251],"nice":false,"zero":false},"axis":{"title":"Axis 1 (67.6%)","values":[-0.4,-0.2,0,0.2],"format":".1f","labelOverlap":false,"tickCount":10}},
"y":{"field":"y","type":"quantitative","scale":{"domain":[-0.304,0.288],"nice":false,"zero":false},"axis":{"title":"Axis 2 (18.4%)","values":[-0.3,-0.2,-0.1,0,0.1,0.2],"format":".1f","labelOverlap":false,"tickCount":10}},
"color":{"field":"stage","type":"nominal","scale":{"domain":["early-treatment","post-treatment"],"range":["#E7B800","#2E8FAA"]},"legend":{"title":"stage","orient":"none","legendX":634,"legendY":160,"titleFontSize":21,"titleFontWeight":"normal","titleColor":"#000000","labelFontSize":22,"labelColor":"#000000","symbolSize":30,"symbolOffset":3,"labelOffset":10,"rowPadding":3,"titlePadding":12}}}},
{"data":{"name":"arr"},"transform":[{"filter":"datum.p=='c'"}],"mark":{"type":"rule","color":"#E8141C","strokeWidth":1.3},
"encoding":{"x":{"field":"ox","type":"quantitative","scale":{"domain":[-0.527,0.251],"nice":false,"zero":false}},"y":{"field":"oy","type":"quantitative","scale":{"domain":[-0.304,0.288],"nice":false,"zero":false}},"x2":{"field":"ex"},"y2":{"field":"ey"}}},
{"data":{"name":"arr"},"transform":[{"filter":"datum.p=='c'"},{"calculate":"atan2(-datum.ay*240,datum.ax*326.5)*180/PI","as":"ang"}],"mark":{"type":"point","shape":"M-1,-0.577L0,0L-1,0.577","filled":false,"color":"#E8141C","strokeWidth":1.3,"size":196,"opacity":1},
"encoding":{"x":{"field":"ax","type":"quantitative","scale":{"domain":[-0.527,0.251],"nice":false,"zero":false}},"y":{"field":"ay","type":"quantitative","scale":{"domain":[-0.304,0.288],"nice":false,"zero":false}},"angle":{"field":"ang","type":"quantitative","scale":null}}},
{"data":{"name":"arr"},"transform":[{"filter":"datum.p=='c'"}],"mark":{"type":"text","color":"#E8141C","fontSize":16},
"encoding":{"x":{"field":"lx","type":"quantitative","scale":{"domain":[-0.527,0.251],"nice":false,"zero":false}},"y":{"field":"ly","type":"quantitative","scale":{"domain":[-0.304,0.288],"nice":false,"zero":false}},"text":{"field":"v"}}}
]}]},
{"title":{"text":"(d)","anchor":"start","frame":"bounds","fontWeight":"bold","offset":-25},
"vconcat":[{"width":254,"height":142,"title":{"text":"Q. serrata","fontStyle":"italic","fontWeight":"normal","anchor":"middle","frame":"group","offset":12},
"layer":[
{"data":{"name":"pts"},"transform":[{"filter":"datum.p=='d'"}],"mark":{"type":"circle","size":45,"opacity":0.5},
"encoding":{"x":{"field":"x","type":"quantitative","scale":{"domain":[-0.422,0.4],"nice":false,"zero":false},"axis":{"title":"Axis 1 (62.6%)","values":[-0.2,0,0.2],"format":".1f","labelOverlap":false,"tickCount":10}},
"y":{"field":"y","type":"quantitative","scale":{"domain":[-0.228,0.274],"nice":false,"zero":false},"axis":{"title":"Axis 2 (21.7%)","values":[-0.2,-0.1,0,0.1,0.2],"format":".1f","labelOverlap":false,"tickCount":10}},
"color":{"field":"stage","type":"nominal","scale":{"domain":["early-treatment","post-treatment"],"range":["#E7B800","#2E8FAA"]},"legend":{"title":"stage","orient":"none","legendX":634,"legendY":160,"titleFontSize":21,"titleFontWeight":"normal","titleColor":"#000000","labelFontSize":22,"labelColor":"#000000","symbolSize":30,"symbolOffset":3,"labelOffset":10,"rowPadding":3,"titlePadding":12}}}},
{"data":{"name":"arr"},"transform":[{"filter":"datum.p=='d'"}],"mark":{"type":"rule","color":"#E8141C","strokeWidth":1.3},
"encoding":{"x":{"field":"ox","type":"quantitative","scale":{"domain":[-0.422,0.4],"nice":false,"zero":false}},"y":{"field":"oy","type":"quantitative","scale":{"domain":[-0.228,0.274],"nice":false,"zero":false}},"x2":{"field":"ex"},"y2":{"field":"ey"}}},
{"data":{"name":"arr"},"transform":[{"filter":"datum.p=='d'"},{"calculate":"atan2(-datum.ay*283,datum.ax*309)*180/PI","as":"ang"}],"mark":{"type":"point","shape":"M-1,-0.577L0,0L-1,0.577","filled":false,"color":"#E8141C","strokeWidth":1.3,"size":196,"opacity":1},
"encoding":{"x":{"field":"ax","type":"quantitative","scale":{"domain":[-0.422,0.4],"nice":false,"zero":false}},"y":{"field":"ay","type":"quantitative","scale":{"domain":[-0.228,0.274],"nice":false,"zero":false}},"angle":{"field":"ang","type":"quantitative","scale":null}}},
{"data":{"name":"arr"},"transform":[{"filter":"datum.p=='d'"}],"mark":{"type":"text","color":"#E8141C","fontSize":16},
"encoding":{"x":{"field":"lx","type":"quantitative","scale":{"domain":[-0.422,0.4],"nice":false,"zero":false}},"y":{"field":"ly","type":"quantitative","scale":{"domain":[-0.228,0.274],"nice":false,"zero":false}},"text":{"field":"v"}}}
]}]}
]
}
